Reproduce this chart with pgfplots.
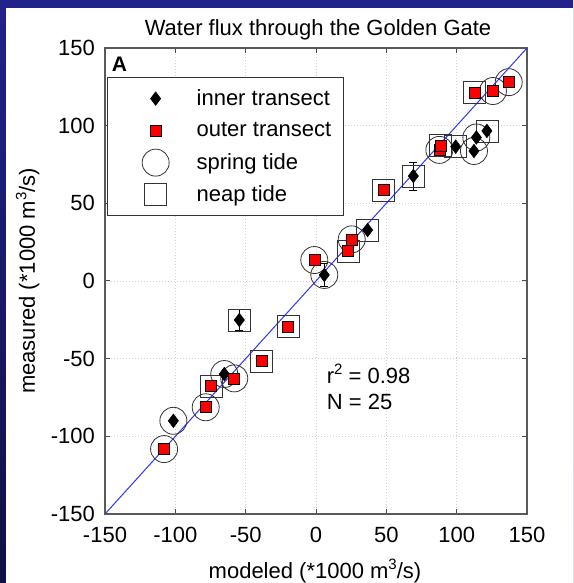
\documentclass[border=0pt]{standalone}
\usepackage{pgfplots}
\pgfplotsset{compat=1.18}
\usepackage{fontspec}
\setmainfont{Liberation Sans}
\definecolor{navy}{RGB}{34,34,140}
\definecolor{navyd}{RGB}{16,16,70}
\definecolor{fitblue}{RGB}{51,51,255}
\newcommand\fs{\fontsize{22}{26}\selectfont}
\newcommand\supr[1]{\raisebox{8.5pt}{\fontsize{15}{15}\selectfont #1}}
\begin{document}
\begin{tikzpicture}
\shade[top color=navy, bottom color=navyd] (-105pt,-69pt) rectangle (468pt,514pt);
\fill[white] (-99pt,-69pt) rectangle (468pt,506pt);
\begin{axis}[
  at={(0pt,0pt)}, anchor=south west, scale only axis,
  width=422pt, height=466pt,
  xmin=-150, xmax=150, ymin=-150, ymax=150,
  xtick={-150,-100,-50,0,50,100,150},
  ytick={-150,-100,-50,0,50,100,150},
  xticklabels={-150,-100,-50,0,50,100,150},
  yticklabels={-150,-100,-50,0,50,100,150},
  xticklabel style={font=\fs, inner sep=0pt, anchor=north, yshift=-13pt},
  yticklabel style={font=\fs, inner sep=0pt, anchor=east, xshift=-10pt},
  tick align=inside, major tick length=5pt,
  tick style={black!70, line width=1pt},
  axis line style={black!65, line width=1.5pt},
  grid=major,
  grid style={line width=0.8pt, gray!35, dash pattern=on 1pt off 2pt},
  legend image code/.code={\path[draw=none, fill=none] (-38pt,-14pt) rectangle (30pt,14pt); \draw[#1] plot coordinates {(0pt,0pt)};},
  legend cell align=left,
  legend style={nodes={inner sep=2pt}, at={(0.00474,0.9378)}, anchor=north west,
    draw=black!80, line width=1.3pt, fill=white, font=\fs,
    inner xsep=10pt, inner ysep=7pt, row sep=4pt,
    /tikz/every odd column/.append style={column sep=9pt}},
]
% legend entries
\addlegendimage{only marks, mark=diamond*, mark size=6.75pt, mark options={fill=black, draw=black, line width=0.6pt}}
\addlegendentry{inner transect}
\addlegendimage{only marks, mark=square*, mark size=5.5pt, mark options={fill=red, draw=black, line width=0.6pt}}
\addlegendentry{outer transect}
\addlegendimage{only marks, mark=o, mark size=13.5pt, mark options={draw=black!80, line width=0.8pt}}
\addlegendentry{spring tide}
\addlegendimage{only marks, mark=square, mark size=11pt, mark options={draw=black!80, line width=0.8pt}}
\addlegendentry{neap tide}
% neap tide (open squares)
\addplot[forget plot, only marks, mark=square, mark size=11pt, mark options={draw=black!80, line width=0.8pt}] coordinates {
(112.8,121.2) (121.5,96.6) (99.3,86.5) (88.6,87.0) (69.2,67.6) (47.9,58.6)
(36.7,32.8) (22.7,19.3) (-54.5,-25.1) (-19.7,-29.4) (-38.6,-51.5) (-74.6,-67.6)};
% spring tide (open circles)
\addplot[forget plot, only marks, mark=o, mark size=13.5pt, mark options={draw=black!80, line width=0.8pt}] coordinates {
(125.8,122.3) (137,128) (114,92.4) (112.3,83.7) (87.7,84.4) (25.4,26.8)
(-1.2,13.5) (5.9,3.9) (-65.2,-59.9) (-58.1,-62.7) (-78.4,-81.3) (-101.4,-90) (-108,-108.2)};
% inner transect (diamonds) with error bars
\addplot[forget plot, only marks, mark=diamond*, mark size=6.75pt, mark options={fill=black, draw=black, line width=0.6pt},
  error bars/.cd, y dir=both, y explicit,
  error bar style={black, line width=0.8pt},
  error mark=-,
  error mark options={rotate=90, mark size=4pt, line width=0.8pt, black}] coordinates {
(121.5,96.6) +- (0,0)
(114,92.4) +- (0,0)
(112.3,83.7) +- (0,0)
(99.3,86.5) +- (0,0)
(69.2,67.6) +- (0,9)
(36.7,32.8) +- (0,0)
(5.9,3.9) +- (0,7.5)
(-54.5,-25.1) +- (0,6.7)
(-65.2,-59.9) +- (0,0)
(-101.4,-90) +- (0,0)};
% outer transect (red squares)
\addplot[forget plot, only marks, mark=square*, mark size=5.5pt, mark options={fill=red, draw=black, line width=0.6pt}] coordinates {
(112.8,121.2) (125.8,122.3) (137,128) (87.7,84.4) (88.6,87.0) (47.9,58.6)
(25.4,26.8) (22.7,19.3) (-1.2,13.5) (-19.7,-29.4) (-38.6,-51.5) (-58.1,-62.7)
(-74.6,-67.6) (-78.4,-81.3) (-108,-108.2)};
% 1:1 line
\addplot[forget plot, fitblue, line width=1pt] coordinates {(-150,-150) (150,150)};
\end{axis}
\node[anchor=base, font=\fs, inner sep=0pt] at (213pt,478pt) {Water flux through the Golden Gate};
\node[anchor=base west, inner sep=0pt, font=\fontsize{21}{24}\selectfont\bfseries] at (6.7pt,442.3pt) {A};
\node[anchor=base west, inner sep=0pt, font=\fs] at (221.7pt,130.7pt) {r\supr{2} = 0.98};
\node[anchor=base west, inner sep=0pt, font=\fs] at (221.7pt,104pt) {N = 25};
\node[anchor=base, inner sep=0pt, font=\fs] at (210pt,-64pt) {modeled (*1000 m\supr{3}/s)};
\node[anchor=base, inner sep=0pt, font=\fs, rotate=90] at (-70pt,233pt) {measured (*1000 m\supr{3}/s)};
\pgfresetboundingbox
\path[use as bounding box] (-105pt,-69pt) rectangle (468pt,514pt);
\end{tikzpicture}
\end{document}
